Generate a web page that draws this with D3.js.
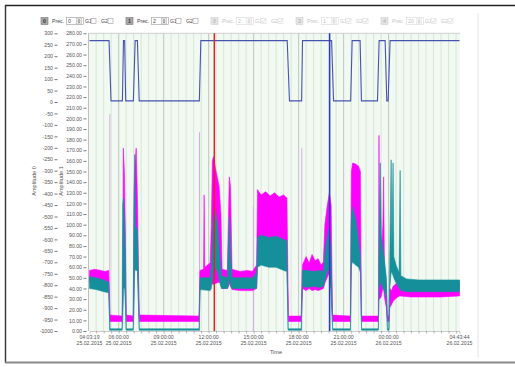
<!DOCTYPE html>
<html><head><meta charset="utf-8">
<script src="https://cdn.jsdelivr.net/npm/d3@7"></script>
<style>
html,body{margin:0;padding:0;background:#fff;}
svg{display:block;font-family:"Liberation Sans",Arial,sans-serif;}
</style></head><body>
<svg id="c" width="515" height="367"></svg>
<script>
// ---------- DATA (time in hours since 25.02.2015 00:00) ----------
const startHour = 4 + 3/60 + 19/3600;      // 04:03:19 25.02.2015
const endHour = 28 + 43/60 + 44/3600;      // 04:43:44 26.02.2015
const timeLabelHours = [startHour, 6, 9, 12, 15, 18, 21, 24, endHour];

const amp0Ticks = d3.range(-1000, 301, 50);
const amp1Ticks = d3.range(0, 281, 10);

const channelIds = ["0", "1", "2", "3", "4"];
const channelPrecision = ["0", "2", "2", "1", "20"];
const channelEnabled = [true, true, false, false, false];

// blue step signal (Amplitude 0 axis)
const blueSignal = [
 [startHour,268],[5.36,268],[5.49,5],[6.25,5],[6.32,268],[6.40,268],[6.47,5],[6.98,5],[7.10,268],[7.25,268],[7.37,5],
 [11.38,5],[11.48,268],[17.24,268],[17.39,5],[18.20,5],[18.26,268],[20.20,268],[20.33,5],[21.47,5],[21.57,268],
 [22.10,268],[22.19,5],[23.26,5],[23.37,268],[23.77,268],[23.88,5],[23.97,5],[24.10,268],[endHour,268]
];

// magenta band [hour, low, high] (Amplitude 1 axis)
const magentaBand = [
 [startHour,46,57],[4.40,45,58],[4.80,44,57],[5.10,44,56],[5.34,43,57],
 [5.42,9,15],[6.24,9,14],
 [6.28,30,60],[6.31,100,172],[6.38,85,150],[6.45,45,90],[6.50,9,15],
 [6.97,9,14],
 [7.03,50,130],[7.10,70,160],[7.17,80,172],[7.26,60,120],[7.34,20,40],[7.38,9,15],
 [11.36,9,14],
 [11.42,44,57],[11.66,44,58],[11.70,46,128],[11.74,44,60],[12.10,42,64],
 [12.18,45,100],[12.25,44,160],[12.32,44,164],[12.50,45,150],[12.70,46,136],[12.82,45,110],[12.90,40,58],
 [13.25,40,57],[13.31,42,100],[13.38,45,145],[13.46,42,135],[13.56,39,58],
 [14.10,38,56],[14.60,38,57],[14.92,38,56],
 [15.20,40,62],[15.26,62,133],[15.50,63,128],[15.80,63,131],[16.10,62,127],[16.40,62,130],[16.70,61,126],[17.00,60,128],[17.22,60,125],
 [17.32,9,14],[18.17,9,14],
 [18.26,40,62],[18.50,38,70],[18.70,40,64],[18.90,38,72],[19.10,39,66],[19.30,38,68],[19.50,39,62],[19.65,40,65],
 [19.75,45,100],[19.90,50,117],[20.05,55,130],[20.17,40,118],[20.26,9,15],
 [21.45,9,14],
 [21.52,60,150],[21.60,80,158],[21.80,80,157],[22.00,75,155],[22.12,70,150],[22.19,9,14],
 [23.32,9,14],
 [23.36,30,184],[23.40,30,60],[23.50,32,70],[23.62,40,100],[23.67,40,145],[23.72,32,62],[23.85,22,45],[23.92,9,14],
 [24.03,9,14],
 [24.08,22,40],[24.20,25,38],[24.30,28,42],[24.45,30,44],[24.60,32,45],
 [24.75,33,46],[25.50,32,46],[26.50,32,47],[27.50,32,46],[endHour,33,46]
];

// teal band [hour, low, high] (Amplitude 1 axis)
const tealBand = [
 [startHour,40,51],[4.50,39,50],[5.00,37,48],[5.34,36,46],
 [5.41,0.8,2],[6.23,0.8,2],
 [6.27,10,120],[6.32,40,125],[6.40,40,100],[6.46,20,60],[6.50,0.8,2],
 [6.97,0.8,2],
 [7.02,20,120],[7.07,60,166],[7.12,57,100],[7.25,57,95],[7.33,20,40],[7.37,0.8,2],
 [11.37,0.8,2],
 [11.43,39,50],[12.10,38,50],
 [12.18,40,60],[12.30,55,105],[12.45,60,114],[12.60,55,100],[12.75,45,70],[12.85,40,52],
 [13.25,40,50],[13.32,42,80],[13.40,50,107],[13.48,42,70],[13.56,40,50],
 [14.92,40,50],
 [15.20,40,55],[15.26,60,88],[15.50,62,90],[16.00,60,88],[16.50,60,89],[17.00,57,86],[17.22,56,85],
 [17.30,0.8,2],[18.18,0.8,2],
 [18.25,42,57],[18.60,41,57],[19.00,42,56],[19.40,41,57],[19.65,42,56],
 [19.80,50,80],[20.00,60,95],[20.15,40,80],[20.27,0.8,2],
 [21.46,0.8,2],
 [21.50,60,100],[21.58,65,117],[21.80,62,105],[22.00,60,85],[22.12,55,70],[22.20,0.8,2],
 [23.32,0.8,2],
 [23.35,40,70],[23.45,45,158],[23.52,45,90],[23.60,40,80],[23.70,38,70],[23.85,30,50],[23.92,0.8,2],
 [24.03,0.8,2],
 [24.08,40,70],[24.17,55,161],[24.22,55,75],[24.30,52,158],[24.35,50,70],[24.50,45,62],[24.70,40,55],[24.77,40,151],[24.82,38,52],[25.20,37,49],
 [26.00,37,48],[27.00,37,48],[endHour,37,48]
];

// thin transition spikes [hour, peak] (Amplitude 1 axis)
const transitionSpikes = [[5.41,204],[11.39,187],[14.98,117],[18.21,172]];

// cursors
const cursorHours = [12.38, 20.07];
const cursorColors = ["#e3231b", "#2d3ac4"];

// ---------- DRAWING ----------
const base = new Date(2015, 1, 25, 0, 0, 0).getTime();
const toDate = h => new Date(base + Math.round(h * 3600000));
const svg = d3.select("#c");
const FS = 5.2;

const P = {l: 88.5, r: 460, t: 33.3, b: 331};
const x = d3.scaleTime().domain([toDate(startHour), toDate(endHour)]).range([89.5, 459.5]);
const y0 = d3.scaleLinear().domain([-1000, 300]).range([P.b, P.t]);
const y1 = d3.scaleLinear().domain([0, 280]).range([P.b, P.t]);

// outer frame
svg.append("line").attr("x1",5).attr("x2",515).attr("y1",5.5).attr("y2",5.5).attr("stroke","#222").attr("stroke-width",1.6);
svg.append("line").attr("x1",5.5).attr("x2",5.5).attr("y1",5).attr("y2",363).attr("stroke","#333").attr("stroke-width",1.4);
svg.append("line").attr("x1",5).attr("x2",515).attr("y1",362.5).attr("y2",362.5).attr("stroke","#888").attr("stroke-width",2);
svg.append("line").attr("x1",478).attr("x2",478).attr("y1",13).attr("y2",357).attr("stroke","#e2e2e2").attr("stroke-width",1);

// toolbar
const tb = svg.append("g").attr("font-size", FS);
channelIds.forEach((id, i) => {
  const x0 = 41 + i * 85;
  const on = channelEnabled[i];
  const tc = on ? "#444" : "#c4c4c4";
  const bc = on ? "#9a9a9a" : "#dadada";
  const g = tb.append("g").attr("transform", `translate(${x0},0)`);
  g.append("rect").attr("x",0).attr("y",17.5).attr("width",7).attr("height",7).attr("fill", on ? "#a8a8a8" : "#e4e4e4").attr("stroke", on ? "#777" : "#d0d0d0").attr("stroke-width",0.6);
  g.append("text").attr("x",3.5).attr("y",23.2).attr("text-anchor","middle").attr("fill", on ? "#333" : "#bbb").attr("font-weight","bold").text(id);
  g.append("text").attr("x",11).attr("y",23.2).attr("fill",tc).text("Prec.");
  g.append("rect").attr("x",25.5).attr("y",17.5).attr("width",17).attr("height",7).attr("fill","#fff").attr("stroke",bc).attr("stroke-width",0.6);
  g.append("text").attr("x",27).attr("y",23.2).attr("fill",tc).text(channelPrecision[i]);
  g.append("rect").attr("x",35.5).attr("y",18).attr("width",5).attr("height",6).attr("fill", on ? "#eee" : "#f6f6f6").attr("stroke",bc).attr("stroke-width",0.4);
  g.append("path").attr("d","M36.5,20.6 L38,19 L39.5,20.6 Z M36.5,21.6 L38,23.2 L39.5,21.6 Z").attr("fill", on ? "#777" : "#ccc");
  g.append("text").attr("x",44).attr("y",23.2).attr("fill",tc).text("G1");
  g.append("rect").attr("x",50).attr("y",18.5).attr("width",5).attr("height",5).attr("fill","#fff").attr("stroke",bc).attr("stroke-width",0.6);
  g.append("text").attr("x",60).attr("y",23.2).attr("fill",tc).text("G2");
  g.append("rect").attr("x",67).attr("y",18.5).attr("width",5).attr("height",5).attr("fill","#fff").attr("stroke",bc).attr("stroke-width",0.6);
  if (!on) {
    g.append("path").attr("d","M50.8,21 L52.3,22.6 L54.3,19.2 M67.8,21 L69.3,22.6 L71.3,19.2").attr("fill","none").attr("stroke","#cfcfcf").attr("stroke-width",0.7);
  }
});

// plot background and grid
svg.append("rect").attr("x",P.l).attr("y",P.t).attr("width",P.r-P.l).attr("height",P.b-P.t).attr("fill","#f2f8f2");
const minor = x.ticks(d3.timeMinute.every(30));
svg.append("g").selectAll("line").data(minor).join("line")
  .attr("x1",d=>x(d)).attr("x2",d=>x(d)).attr("y1",P.t).attr("y2",P.b)
  .attr("stroke","#cbe4cb").attr("stroke-width",0.8);
const major = timeLabelHours.slice(1, -1).map(toDate);
svg.append("g").selectAll("line").data(major).join("line")
  .attr("x1",d=>x(d)).attr("x2",d=>x(d)).attr("y1",P.t).attr("y2",P.b)
  .attr("stroke","#b9c6b9").attr("stroke-width",0.8);
svg.append("line").attr("x1",P.l).attr("x2",P.r).attr("y1",P.t).attr("y2",P.t).attr("stroke","#c4c4c4").attr("stroke-width",0.8);
svg.append("line").attr("x1",P.l).attr("x2",P.l).attr("y1",P.t).attr("y2",P.b).attr("stroke","#b0b0b0").attr("stroke-width",0.8);

// spikes
svg.append("g").selectAll("line").data(transitionSpikes).join("line")
  .attr("x1",d=>x(toDate(d[0]))).attr("x2",d=>x(toDate(d[0])))
  .attr("y1",y1(0)).attr("y2",d=>y1(d[1]))
  .attr("stroke","#d9abe6").attr("stroke-width",1);

// bands
const band = d3.area().x(d=>x(toDate(d[0]))).y0(d=>y1(d[1])).y1(d=>y1(d[2]));
svg.append("path").datum(magentaBand).attr("d",band).attr("fill","#ff00ff").attr("stroke","#ff00ff").attr("stroke-width",0.6);
svg.append("path").datum(tealBand).attr("d",band).attr("fill","#15909b").attr("stroke","#15909b").attr("stroke-width",0.6);

// blue signal
const line = d3.line().x(d=>x(toDate(d[0]))).y(d=>y0(d[1]));
svg.append("path").datum(blueSignal).attr("d",line).attr("fill","none").attr("stroke","#4653b0").attr("stroke-width",1.1);

// cursors
svg.append("g").selectAll("line").data(cursorHours).join("line")
  .attr("x1",d=>x(toDate(d))).attr("x2",d=>x(toDate(d))).attr("y1",P.t).attr("y2",P.b)
  .attr("stroke",(d,i)=>cursorColors[i]).attr("stroke-width",1.5);

// y axes
function styleAxis(g){
  g.select(".domain").remove();
  g.selectAll("text").attr("font-size",FS).attr("fill","#555").attr("font-family","Liberation Sans, Arial, sans-serif");
  g.selectAll("line").attr("stroke","#777");
}
svg.append("g").attr("transform","translate(57.5,0)")
  .call(d3.axisLeft(y0).tickValues(amp0Ticks).tickSize(3).tickPadding(1.5).tickFormat(d=>String(d)))
  .call(styleAxis);
svg.append("g").attr("transform","translate(86.5,0)")
  .call(d3.axisLeft(y1).tickValues(amp1Ticks).tickSize(3).tickPadding(1.5).tickFormat(d=>d.toFixed(2)))
  .call(styleAxis);
svg.append("text").attr("transform","translate(35.5,181) rotate(-90)").attr("text-anchor","middle").attr("font-size",5.6).attr("fill","#555").text("Amplitude 0");
svg.append("text").attr("transform","translate(63,181) rotate(-90)").attr("text-anchor","middle").attr("font-size",5.6).attr("fill","#555").text("Amplitude 1");

// x axis
const xg = svg.append("g").attr("transform",`translate(0,${P.b})`)
  .call(d3.axisBottom(x).tickValues(minor).tickSize(2.5).tickFormat(""));
xg.select(".domain").attr("stroke","#aaa").attr("stroke-width",0.6);
xg.selectAll("line").attr("stroke","#888").attr("stroke-width",0.6);
const fT = d3.timeFormat("%H:%M:%S"), fD = d3.timeFormat("%d.%m.%Y");
const lab = svg.append("g").selectAll("g").data(timeLabelHours.map(toDate)).join("g")
  .attr("transform",d=>`translate(${x(d)},0)`);
lab.append("text").attr("y",338.5).attr("text-anchor","middle").attr("font-size",FS).attr("fill","#555").text(d=>fT(d));
lab.append("text").attr("y",345).attr("text-anchor","middle").attr("font-size",FS).attr("fill","#555").text(d=>fD(d));
svg.append("text").attr("x",276).attr("y",353.5).attr("text-anchor","middle").attr("font-size",5.6).attr("fill","#555").text("Time");
</script></body></html>
